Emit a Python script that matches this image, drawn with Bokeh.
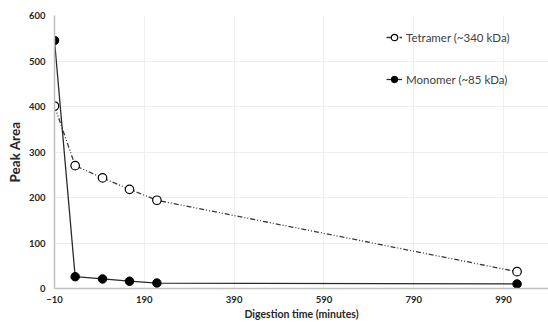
from bokeh.plotting import figure
from bokeh.models import Range1d, FixedTicker, Legend, LegendItem
from bokeh.embed import file_html
from bokeh.resources import INLINE

# Data
time_min = [-10, 36, 97, 157, 218, 1020]
tetramer = [401, 270, 243, 218, 194, 37]
monomer = [545, 26, 21, 16, 12, 10]
x_ticks = [-10, 190, 390, 590, 790, 990]
y_ticks = [0, 100, 200, 300, 400, 500, 600]

FONT = "Lato"

p = figure(width=548, height=322, output_backend="svg", toolbar_location=None,
           x_range=Range1d(-10, 1090), y_range=Range1d(0, 600),
           min_border_left=54, min_border_right=0, min_border_top=15, min_border_bottom=33)
p.outline_line_color = None
p.background_fill_color = "white"

for ax in (p.xaxis[0], p.yaxis[0]):
    ax.major_tick_line_color = None
    ax.minor_tick_line_color = None
    ax.major_tick_out = 0
    ax.major_tick_in = 0
    ax.minor_tick_out = 0
    ax.minor_tick_in = 0
    ax.axis_line_color = "#bfbfbf"
    ax.axis_line_width = 1.5
    ax.major_label_text_font = FONT
    ax.major_label_text_font_style = "bold"
    ax.major_label_text_font_size = "9.5px"
    ax.major_label_text_color = "#262626"
    ax.axis_label_text_font = FONT
    ax.axis_label_text_font_style = "bold"
    ax.axis_label_text_color = "#262626"

p.xaxis.ticker = FixedTicker(ticks=x_ticks)
p.yaxis.ticker = FixedTicker(ticks=y_ticks)
p.xaxis.axis_label = "Digestion time (minutes)"
p.xaxis.axis_label_text_font_size = "10.5px"
p.xaxis.major_label_standoff = 7
p.xaxis.axis_label_standoff = 2
p.yaxis.axis_label = "Peak Area"
p.yaxis.axis_label_text_font_size = "13.5px"
p.yaxis.major_label_standoff = 9
p.yaxis.axis_label_standoff = 3

p.xgrid.ticker = FixedTicker(ticks=x_ticks)
p.ygrid.ticker = FixedTicker(ticks=y_ticks)
p.xgrid.grid_line_color = "#efefef"
p.ygrid.grid_line_color = "#efefef"

t_line = p.line(time_min, tetramer, line_color="#3a3a3a", line_width=1.3, line_dash="5 2 1 2 1 2")
t_pts = p.scatter(time_min, tetramer, marker="circle", size=8.5, fill_color="white",
                  line_color="black", line_width=1.2)
m_line = p.line(time_min, monomer, line_color="#2a2a2a", line_width=1.3)
m_pts = p.scatter(time_min, monomer, marker="circle", size=8.5, fill_color="black",
                  line_color="black")

legend = Legend(items=[LegendItem(label="Tetramer (~340 kDa)", renderers=[t_line, t_pts]),
                       LegendItem(label="Monomer (~85 kDa)", renderers=[m_line, m_pts])],
                location=(332, 199))
legend.background_fill_alpha = 0
legend.border_line_color = None
legend.padding = 0
legend.margin = 0
legend.spacing = 22
legend.glyph_width = 16
legend.glyph_height = 20
legend.label_height = 20
legend.label_standoff = 4
legend.label_text_font = FONT
legend.label_text_font_size = "11.5px"
legend.label_text_color = "#404040"
p.add_layout(legend)

open("out.html", "w").write(file_html(p, INLINE))
